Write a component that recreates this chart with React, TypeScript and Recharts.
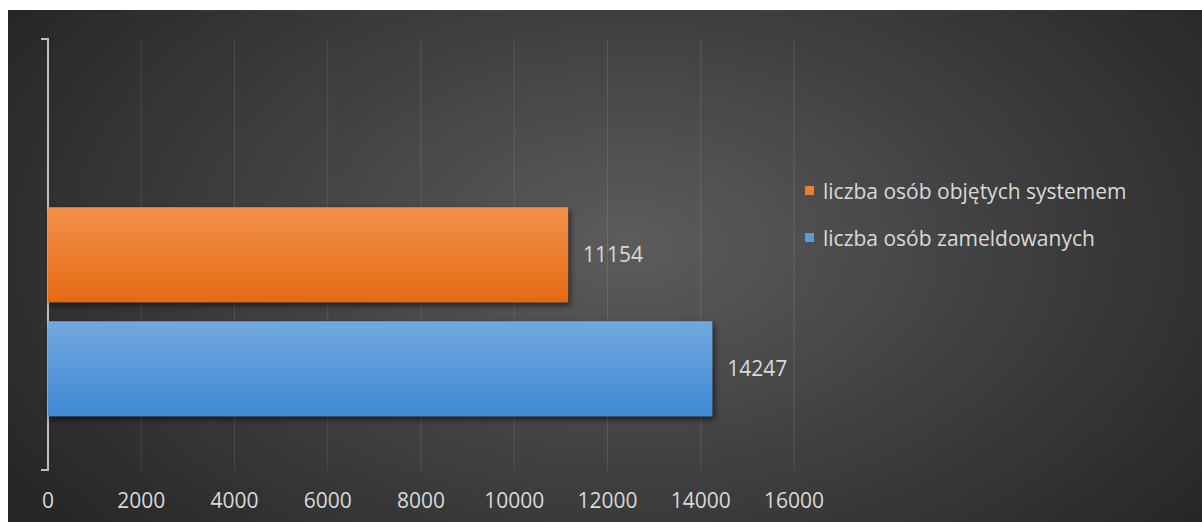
import React from 'react'
import { BarChart, Bar, XAxis, YAxis, CartesianGrid, Legend, LabelList, usePlotArea } from 'recharts'

// one category, three series slots (the top one is empty in the source sheet)
const categories = ['']
const emptySeries: (number | null)[] = [null]
const objeciSystemem = [11154]
const zameldowani = [14247]
const xTicks = [0, 2000, 4000, 6000, 8000, 10000, 12000, 14000, 16000]

const LABEL_OBJECI = 'liczba osób objętych systemem'
const LABEL_ZAMELD = 'liczba osób zameldowanych'

const data = categories.map((name, i) => ({
  name,
  pusta: emptySeries[i],
  objeci: objeciSystemem[i],
  zameldowani: zameldowani[i],
}))

const FONT = '"Open Sans", sans-serif'
const TEXT = '#d9d9d9'

function AxisBracket() {
  const area = usePlotArea()
  if (!area) return null
  const { x, y, height } = area
  return (
    <path
      d={`M${x - 7},${y} H${x} V${y + height} H${x - 7}`}
      fill="none"
      stroke="#bfbfbf"
      strokeWidth={2}
    />
  )
}

function LegendBox({ payload }: any) {
  const items = (payload ?? []).filter((p: any) => p.type !== 'none')
  return (
    <div style={{ fontFamily: FONT, fontSize: 21, color: TEXT }}>
      {items.map((p: any) => (
        <div key={p.value} style={{ display: 'flex', alignItems: 'center', height: 47 }}>
          <span style={{ width: 9, height: 9, background: p.color, marginRight: 9 }} />
          <span>{p.value}</span>
        </div>
      ))}
    </div>
  )
}

export default function App() {
  return (
    <div
      style={{
        position: 'absolute',
        left: 8,
        top: 10,
        width: 1194,
        height: 512,
        background: 'radial-gradient(ellipse 720px 440px at 52% 46%, #5c5c5c 0%, #3e3e3e 55%, #272727 100%)',
      }}
    >
      <BarChart
        width={1194}
        height={512}
        data={data}
        layout="vertical"
        margin={{ top: 29, right: 408, bottom: 0, left: 40 }}
        barCategoryGap="12.6%"
        barGap={19}
      >
        <defs>
          <linearGradient id="gOrange" x1="0" y1="0" x2="0" y2="1">
            <stop offset="0%" stopColor="#f3914d" />
            <stop offset="100%" stopColor="#e46a12" />
          </linearGradient>
          <linearGradient id="gBlue" x1="0" y1="0" x2="0" y2="1">
            <stop offset="0%" stopColor="#72a8e0" />
            <stop offset="100%" stopColor="#3f89d3" />
          </linearGradient>
          <filter id="shadow" x="-5%" y="-20%" width="115%" height="150%">
            <feDropShadow dx="2" dy="3" stdDeviation="3" floodColor="#000" floodOpacity="0.6" />
          </filter>
        </defs>
        <CartesianGrid horizontal={false} stroke="rgba(255,255,255,0.11)" strokeWidth={1} />
        <XAxis
          type="number"
          domain={[0, 16000]}
          ticks={xTicks}
          axisLine={false}
          tickLine={false}
          tickMargin={17}
          height={52}
          tick={{ fill: TEXT, fontSize: 21, fontFamily: FONT }}
        />
        <YAxis type="category" dataKey="name" hide />
        <Bar dataKey="pusta" name="pusta" legendType="none" fill="transparent" isAnimationActive={false} />
        <Bar
          dataKey="objeci"
          name={LABEL_OBJECI}
          fill="url(#gOrange)"
          filter="url(#shadow)"
          isAnimationActive={false}
        >
          <LabelList dataKey="objeci" position="right" offset={15} fill={TEXT} fontSize={21} fontFamily={FONT} />
        </Bar>
        <Bar
          dataKey="zameldowani"
          name={LABEL_ZAMELD}
          fill="url(#gBlue)"
          filter="url(#shadow)"
          isAnimationActive={false}
        >
          <LabelList dataKey="zameldowani" position="right" offset={15} fill={TEXT} fontSize={21} fontFamily={FONT} />
        </Bar>
        <AxisBracket />
        <Legend
          layout="horizontal"
          verticalAlign="middle"
          content={(props: any) => (
            <LegendBox
              payload={(props.payload ?? []).map((p: any) => ({
                ...p,
                color: p.dataKey === 'objeci' ? '#ed7d31' : '#5b9bd5',
              }))}
            />
          )}
          wrapperStyle={{ position: 'absolute', left: 797, top: 157, width: 'auto' }}
        />
      </BarChart>
    </div>
  )
}
